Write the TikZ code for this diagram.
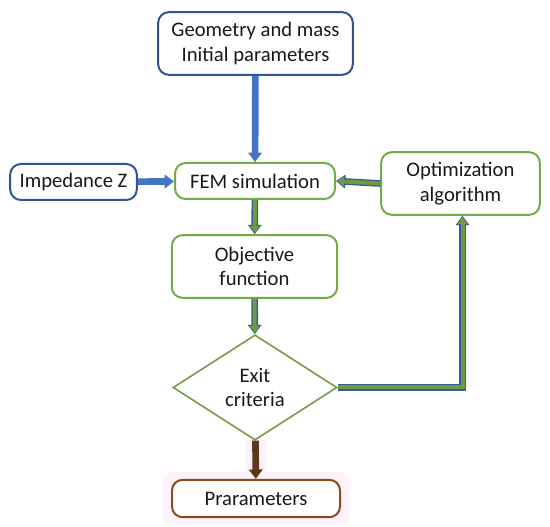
\documentclass[tikz,border=0pt]{standalone}
\usepackage{fontspec}
\setmainfont{Carlito}
\usetikzlibrary{shapes.geometric,arrows.meta}
\definecolor{boxblue}{HTML}{2F5597}
\definecolor{arrblue}{HTML}{4472C4}
\definecolor{boxgreen}{HTML}{70AD47}
\definecolor{arrgreen}{HTML}{6F9A3E}
\definecolor{diagreen}{HTML}{7A9A45}
\definecolor{boxbrown}{HTML}{8B4A1C}
\definecolor{arrbrown}{HTML}{5A3A18}
\definecolor{glowpink}{HTML}{FDF1FB}
\tikzset{
  basebox/.style={rectangle,rounded corners=8pt,line width=1.5pt,fill=white,
    align=center,inner sep=2pt,text=black!90},
  bluebox/.style={basebox,draw=boxblue},
  greenbox/.style={basebox,draw=boxgreen},
  brownbox/.style={basebox,draw=boxbrown},
  decision/.style={diamond,draw=diagreen,line width=1.2pt,fill=white,align=center,
    inner sep=0pt,text=black!90},
  arrout/.style={line width=5pt,-{Triangle[length=7pt,width=10pt]}},
  arrin/.style={line width=3pt,shorten >=1pt,-{Triangle[length=5pt,width=7pt]}},
}
\begin{document}
\begin{tikzpicture}[x=0.75pt,y=-0.75pt,font=\fontsize{15.5}{18.5}\selectfont]
  \useasboundingbox (0,0) rectangle (550,527);

  % leichter Schatten unten
  \fill[glowpink,rounded corners=8pt] (163,472) rectangle (349,525);
  \fill[glowpink] (246,440) rectangle (266,472);

  % Knoten
  \node[bluebox,minimum width=146pt,minimum height=47pt] (geom) at (255.5,43.5)
    {Geometry and mass\\Initial parameters};
  \node[greenbox,minimum width=120pt,minimum height=27pt] (fem) at (255,181) {FEM simulation};
  \node[bluebox,minimum width=95pt,minimum height=27pt] (imp) at (73.5,182) {Impedance Z};
  \node[greenbox,minimum width=119pt,minimum height=47pt] (opt) at (460.5,183.5)
    {Optimization\\algorithm};
  \node[greenbox,minimum width=124pt,minimum height=47pt] (obj) at (254.5,266.5)
    {Objective\\function};
  \node[decision,minimum width=123pt,minimum height=79pt] (exit) at (255,387.5)
    {Exit\\criteria};
  \node[brownbox,minimum width=126pt,minimum height=28pt] (par) at (256,498.5) {Prarameters};

  % Pfeile
  \draw[arrout,arrblue] (geom) -- (fem);
  \draw[arrout,arrblue] (imp) -- (fem);

  \draw[arrout,arrblue!80!black] (opt.west) -- (fem.east);
  \draw[arrin,arrgreen] (opt.west) -- (fem.east);
  \draw[arrout,arrblue!80!black] (fem) -- (obj);
  \draw[arrin,arrgreen] (fem) -- (obj);
  \draw[arrout,arrblue!80!black] (obj) -- (exit);
  \draw[arrin,arrgreen] (obj) -- (exit);
  \draw[arrout,arrblue!80!black] (exit.east) -| ([xshift=1.5pt]opt.south);
  \draw[arrin,arrgreen] (exit.east) -| ([xshift=1.5pt]opt.south);

  \draw[arrout,arrbrown] (exit) -- (par);
\end{tikzpicture}
\end{document}
